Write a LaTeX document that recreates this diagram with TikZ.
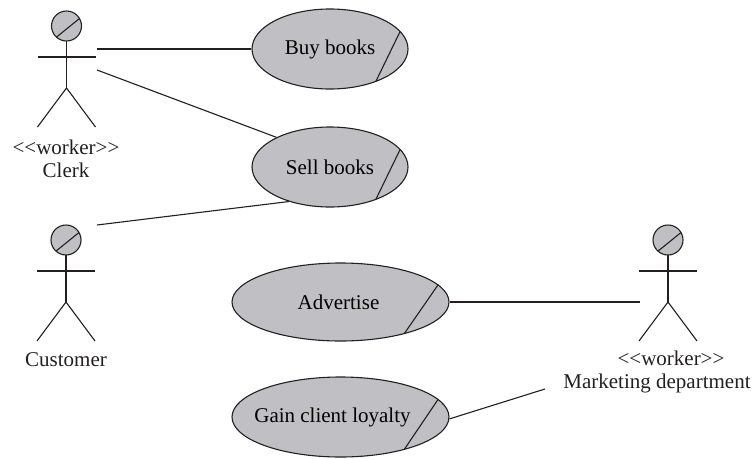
\documentclass[tikz,border=0pt]{standalone}
\usepackage{fontspec}
\setmainfont{Liberation Serif}
\usetikzlibrary{shapes.geometric,calc}
\definecolor{ucline}{RGB}{35,31,32}
\definecolor{ucgray}{RGB}{192,192,196}
\tikzset{
  ucbase/.style={draw=ucline, line width=1.1pt},
  ucslash/.style={path picture={
    \draw[ucline, line width=1.1pt]
      let \p1=(path picture bounding box.north east),
          \p2=(path picture bounding box.center) in
      ({\x2+0.930*(\x1-\x2)},{\y2+0.563*(\y1-\y2)}) --
      ({\x2+0.557*(\x1-\x2)},{\y2-0.934*(\y1-\y2)});}},
  usecase/.style={ucbase, ellipse, fill=ucgray, inner sep=0pt, ucslash,
    font=\fontsize{21}{24}\selectfont},
  lbl/.style={anchor=base, inner sep=0pt, text=ucline,
    font=\fontsize{21}{24}\selectfont},
  conn/.style={ucbase},
  actorfig/.pic={
    \draw[ucbase, fill=ucgray] (0,0) circle[radius=15];
    \draw[ucbase] (-10,11.1) -- (13,-7.5);
    \draw[ucbase] (0,15) -- (0,62);
    \draw[ucbase] (-29,31) -- (29,31);
    \draw[ucbase] (-29,101) -- (0,62) -- (29,101);
  }
}
\begin{document}
\begin{tikzpicture}[x=1pt, y=-1pt]
\useasboundingbox (0,0) rectangle (755,458);

% actors
\pic (clerk) at (66.5,26) {actorfig};
\pic (customer) at (66,240) {actorfig};
\pic (marketing) at (668,240) {actorfig};

\node[lbl] (clerkst) at (66,154) {<\kern0pt<worker>\kern0pt>};
\node[lbl] (clerkname) at (66,177) {Clerk};
\node[lbl] (custname) at (66,366) {Customer};
\node[lbl] (mktst) at (671,365) {<\kern0pt<worker>\kern0pt>};
\node[lbl] (mktname) at (657,388) {Marketing department};

% use cases
\node[usecase, minimum width=156pt, minimum height=80pt] (buy) at (330,49) {\makebox[0pt]{Buy books}};
\node[usecase, minimum width=156pt, minimum height=80pt] (sell) at (330,167) {\makebox[0pt]{Sell books}};
\node[usecase, minimum width=217pt, minimum height=78pt] (adv) at (340.5,302) {\makebox[0pt]{\kern-4pt Advertise}};
\node[usecase, minimum width=217pt, minimum height=80pt] (gain) at (340.5,417) {\makebox[0pt]{\kern-16pt Gain client loyalty}};

% connector ends at actors
\coordinate (clerkA) at (97,49);
\coordinate (clerkB) at (97,70);
\coordinate (custA) at (97,225);
\coordinate (mktA) at (640,302);
\coordinate (mktB) at (545,389);

% connectors
\draw[conn] (clerkA) -- (buy);
\draw[conn] (clerkB) -- (sell.151);
\draw[conn] (custA) -- (sell.220);
\draw[conn] (adv) -- (mktA);
\draw[conn] (gain.-1) -- (mktB);
\end{tikzpicture}
\end{document}
